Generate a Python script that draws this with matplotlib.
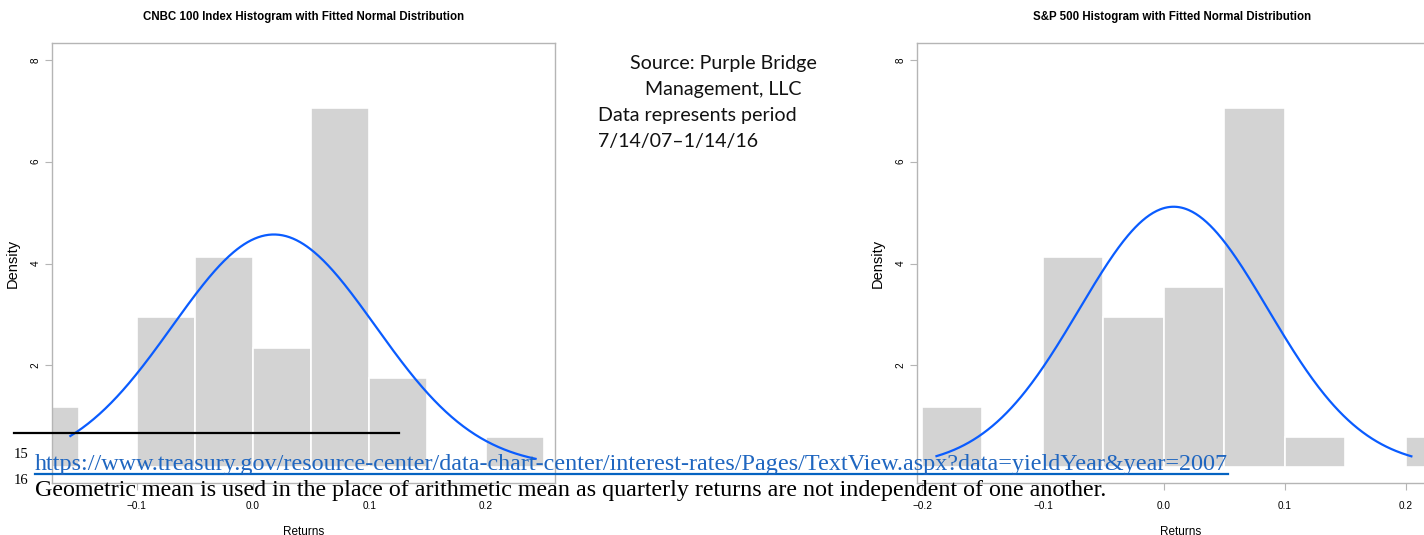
import numpy as np
import matplotlib
matplotlib.use("Agg")
import matplotlib.pyplot as plt
from matplotlib.lines import Line2D
from matplotlib import font_manager

# ---------------- data ----------------
bin_edges = [-0.20, -0.15, -0.10, -0.05, 0.00, 0.05, 0.10, 0.15, 0.20, 0.25]
cnbc_density = [1.18, 0.0, 2.94, 4.12, 2.35, 7.06, 1.76, 0.0, 0.59]
sp500_density = [1.18, 0.0, 4.12, 2.94, 3.53, 7.06, 0.59, 0.0, 0.59]

cnbc_mean, cnbc_sd = 0.018, 0.0873
sp500_mean, sp500_sd = 0.008, 0.078
cnbc_curve_range = (-0.157, 0.243)
sp500_curve_range = (-0.188, 0.2045)

x_ticks = [-0.2, -0.1, 0.0, 0.1, 0.2]
x_tick_labels = ["\u22120.2", "\u22120.1", "0.0", "0.1", "0.2"]
y_ticks = [2, 4, 6, 8]

cnbc_title = "CNBC 100 Index Histogram with Fitted Normal Distribution"
sp500_title = "S&P 500 Histogram with Fitted Normal Distribution"
source_lines = ["Source: Purple Bridge", "Management, LLC",
                "Data represents period", "7/14/07\u20131/14/16"]
url_text = ("https://www.treasury.gov/resource-center/data-chart-center/"
            "interest-rates/Pages/TextView.aspx?data=yieldYear&year=2007")
note_text = ("Geometric mean is used in the place of arithmetic mean as "
             "quarterly returns are not independent of one another.")

# ---------------- fonts ----------------
avail = {f.name for f in font_manager.fontManager.ttflist}
narrow = "Liberation Sans Narrow" if "Liberation Sans Narrow" in avail else "Liberation Sans"
serif = "Liberation Serif"
calib = "Lato"

W, H = 1424, 535
fig = plt.figure(figsize=(W / 100, H / 100), dpi=100)
fig.patch.set_facecolor("white")


def px_rect(l, t, r, b):
    return [l / W, 1 - b / H, (r - l) / W, (b - t) / H]


def panel(rect, xlim, density, mean, sd, crange, title, title_cx):
    ax = fig.add_axes(rect)
    widths = np.diff(bin_edges)
    ax.bar(bin_edges[:-1], density, width=widths, align="edge",
           color="#d3d3d3", edgecolor="white", linewidth=1.2, zorder=1)
    xs = np.linspace(crange[0], crange[1], 400)
    ys = np.exp(-0.5 * ((xs - mean) / sd) ** 2) / (sd * np.sqrt(2 * np.pi))
    ax.plot(xs, ys, color="#0a5cff", lw=1.6, zorder=2)
    ax.set_xticks(x_ticks)
    ax.set_xticklabels(x_tick_labels, fontsize=7.2, family=narrow)
    ax.set_yticks(y_ticks)
    ax.set_yticklabels([str(v) for v in y_ticks], fontsize=7.2, family=narrow,
                       rotation=90, va="center")
    ax.set_xlim(*xlim)
    ax.set_ylim(-0.31, 8.33)
    for s in ax.spines.values():
        s.set_color("#b5b5b5")
        s.set_linewidth(1.0)
    ax.tick_params(axis="both", colors="#b5b5b5", labelcolor="black",
                   length=5, width=0.8)
    ax.tick_params(axis="x", pad=8)
    ax.tick_params(axis="y", pad=3)
    ax.set_xlabel("Returns", fontsize=8.5, family=narrow, labelpad=10.5)
    ax.set_ylabel("Density", fontsize=10.5, family=narrow, labelpad=8)
    fig.text(title_cx / W, 1 - 17 / H, title, ha="center", va="center",
             fontsize=8.3, fontweight="bold", family=narrow)
    return ax


ax1 = panel(px_rect(52, 43, 555, 483), (-0.1728, 0.2597), cnbc_density,
            cnbc_mean, cnbc_sd, cnbc_curve_range, cnbc_title, 304)
ax2 = panel(px_rect(917, 43, 1445, 483), (-0.2041, 0.2323), sp500_density,
            sp500_mean, sp500_sd, sp500_curve_range, sp500_title, 1172)

# source box text
src_pos = [(723, 63, "center"), (723, 89, "center"), (598, 115, "left"), (598, 141, "left")]
for (x, y, ha), line in zip(src_pos, source_lines):
    fig.text(x / W, 1 - y / H, line, ha=ha, va="center", fontsize=14.1,
             family=calib, color="#111111")

# footnote overlay
fig.add_artist(Line2D([14 / W, 399 / W], [1 - 433 / H, 1 - 433 / H],
                      color="black", lw=1.6))
fig.text(14 / W, 1 - 454 / H, "15", fontsize=10.5, family=serif, va="center")
fig.text(14 / W, 1 - 481 / H, "16", fontsize=10.5, family=serif, va="center")
t_url = fig.text(35 / W, 1 - 470 / H, url_text, fontsize=17.4, family=serif,
                 color="#1f66c0", va="baseline")
fig.text(35 / W, 1 - 496 / H, note_text, fontsize=17.3, family=serif,
         color="black", va="baseline")

fig.canvas.draw()
bb = t_url.get_window_extent()
fig.add_artist(Line2D([bb.x0 / W, bb.x1 / W], [1 - 474 / H, 1 - 474 / H],
                      color="#0563C1", lw=1.6))

fig.savefig("out.png", dpi=100, facecolor="white")
